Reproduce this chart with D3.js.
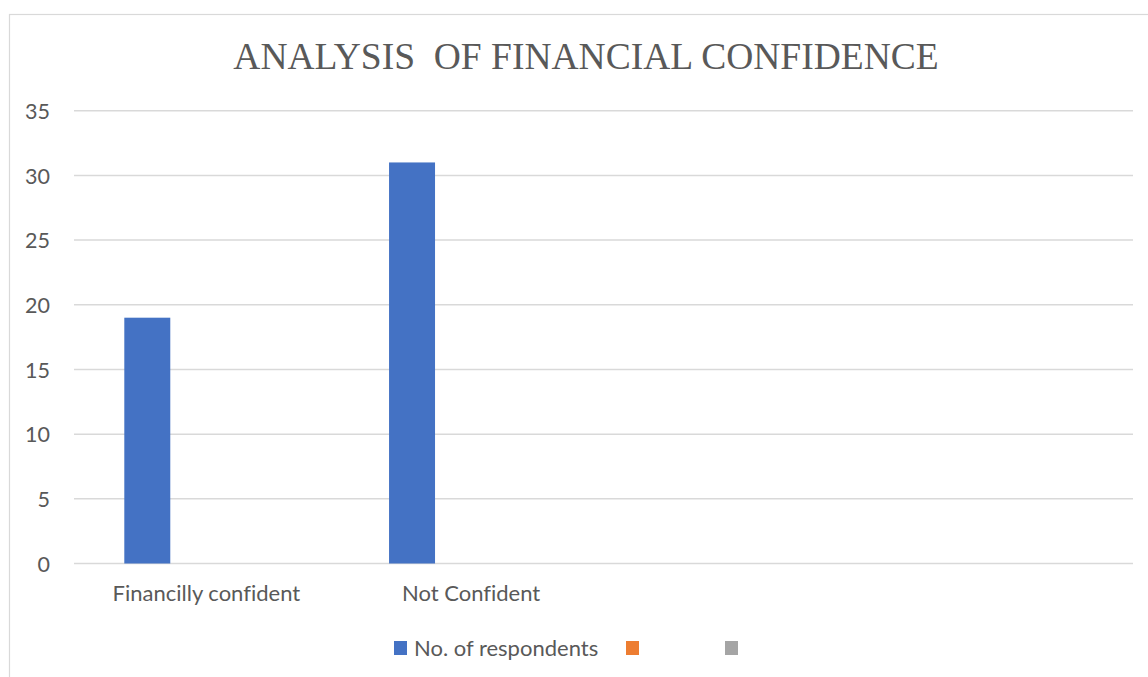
<!DOCTYPE html>
<html>
<head>
<meta charset="utf-8">
<script src="https://cdn.jsdelivr.net/npm/d3@7/dist/d3.min.js"></script>
<style>
  html, body { margin: 0; padding: 0; background: #fff; }
  svg { display: block; }
  text { font-variant-ligatures: none; }
</style>
</head>
<body>
<svg id="chart" width="1148" height="677"></svg>
<script>
// Clustered column chart: respondents by financial confidence
const categories = ["Financilly confident", "Not Confident", "", ""];
const seriesNames = ["No. of respondents", "", ""];
const seriesColors = ["#4472C4", "#ED7D31", "#A5A5A5"];
const respondents = [19, 31, null, null];
const seriesTwo = [null, null, null, null];
const seriesThree = [null, null, null, null];
const yTicks = [0, 5, 10, 15, 20, 25, 30, 35];
const titleText = "ANALYSIS\u00a0\u00a0OF FINANCIAL CONFIDENCE";

const seriesValues = [respondents, seriesTwo, seriesThree];

const svg = d3.select("#chart");
const plot = { left: 74, right: 1133, top: 110.7, bottom: 563.5 };
const labelFont = "Lato, 'Open Sans', sans-serif";

// chart area frame
svg.append("rect")
  .attr("x", 9.5).attr("y", 14.5)
  .attr("width", 1180).attr("height", 700)
  .attr("fill", "#fff").attr("stroke", "#d9d9d9").attr("stroke-width", 1.2);

// title
svg.append("text")
  .attr("x", 586).attr("y", 69)
  .attr("text-anchor", "middle")
  .attr("font-family", "'Liberation Serif', 'Times New Roman', serif")
  .attr("font-size", 37.5)
  .attr("fill", "#595959")
  .text(titleText);

const x = d3.scaleBand().domain(d3.range(categories.length))
  .range([plot.left, plot.right]).padding(0);

// bars sit in the left part of each category slot
const bw = x.bandwidth();
const xs = d3.scaleBand().domain(d3.range(seriesNames.length))
  .range([bw * 0.19, bw * 0.19 + bw * 0.521]).padding(0);

const y = d3.scaleLinear().domain([0, 35]).range([plot.bottom, plot.top]);

// gridlines
svg.append("g").selectAll("line").data(yTicks).join("line")
  .attr("x1", plot.left).attr("x2", plot.right)
  .attr("y1", d => y(d)).attr("y2", d => y(d))
  .attr("stroke", "#d9d9d9").attr("stroke-width", 1.5);

// y axis labels
const yAxis = d3.axisLeft(y).tickValues(yTicks).tickSize(0).tickPadding(0);
const yg = svg.append("g").attr("transform", `translate(50,0)`).call(yAxis);
yg.select(".domain").remove();
yg.selectAll("text")
  .attr("font-family", labelFont)
  .attr("font-size", 21.5)
  .attr("fill", "#595959")
  .attr("dy", "0.36em");

// bars
seriesValues.forEach((vals, si) => {
  svg.append("g").selectAll("rect")
    .data(vals.map((v, i) => ({ v, i })).filter(d => d.v != null))
    .join("rect")
    .attr("x", d => x(d.i) + xs(si))
    .attr("width", xs.bandwidth())
    .attr("y", d => y(d.v))
    .attr("height", d => y(0) - y(d.v))
    .attr("fill", seriesColors[si]);
});

// category labels
const xAxis = d3.axisBottom(x).tickFormat(i => categories[i]).tickSize(0).tickPadding(0);
const xg = svg.append("g").attr("transform", `translate(0,${plot.bottom + 22})`).call(xAxis);
xg.select(".domain").remove();
xg.selectAll("text")
  .attr("font-family", labelFont)
  .attr("font-size", 22)
  .attr("fill", "#595959");

// legend
const legendX = [394, 626, 725];
const legend = svg.append("g");
seriesNames.forEach((name, i) => {
  legend.append("rect")
    .attr("x", legendX[i]).attr("y", 641)
    .attr("width", 13).attr("height", 14)
    .attr("fill", seriesColors[i]);
  legend.append("text")
    .attr("x", legendX[i] + 20).attr("y", 648)
    .attr("dy", "0.36em")
    .attr("font-family", labelFont)
    .attr("font-size", 22)
    .attr("fill", "#595959")
    .text(name);
});
</script>
</body>
</html>
